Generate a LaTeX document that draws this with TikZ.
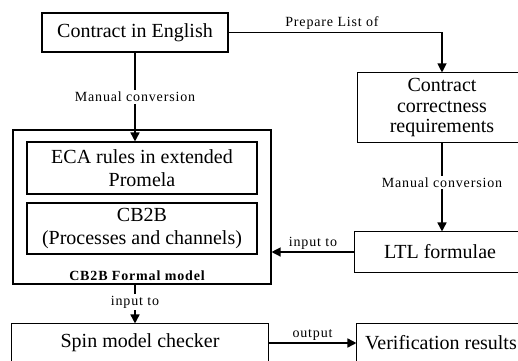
\documentclass[tikz,border=0pt]{standalone}
\usepackage{fontspec}
\setmainfont{Liberation Serif}
\usepackage{tikz}
\usetikzlibrary{arrows.meta, positioning, calc}

\begin{document}
\begin{tikzpicture}[x=1pt, y=-1pt,
  box/.style={draw, line width=1.1pt, rectangle, align=center, inner sep=0pt,
    font=\fontsize{20}{23}\selectfont},
  cutbox/.style={box, draw=none},
  lbl/.style={font=\fontsize{14}{16}\selectfont\addfontfeature{LetterSpace=6}, inner sep=2pt},
  arr/.style={line width=1.6pt, -{Triangle[length=9pt,width=9pt]}}]
\useasboundingbox (0,0) rectangle (518,360);
\clip (0,0) rectangle (518,360);
\node[box, minimum width=186pt, minimum height=39pt] (english) at (135,32.5) {Contract in English};
\node[cutbox, minimum width=168pt, minimum height=69pt, font=\fontsize{20}{20}\selectfont] (req) at (442,107.5) {Contract\\correctness\\requirements};
\node[box, minimum width=258pt, minimum height=154pt] (model) at (142,207) {};
\node[box, minimum width=230pt, minimum height=52pt] (eca) at (142,168) {ECA rules in extended\\Promela};
\node[box, minimum width=230pt, minimum height=51pt] (cbtwob) at (142,228.5) {CB2B\\(Processes and channels)};
\node[lbl, font=\fontsize{14}{16}\selectfont\bfseries\addfontfeature{LetterSpace=6}] (modelname) at (137,276) {CB2B Formal model};
\node[cutbox, minimum width=170pt, minimum height=40pt] (ltl) at (440,252) {LTL formulae};
\node[cutbox, minimum width=256pt, minimum height=38pt] (spin) at (140,343) {Spin model checker};
\node[cutbox, minimum width=168pt, minimum height=38pt] (verif) at (441,343) {Verification results};
\draw[line width=1.1pt] (req.north east) -- (req.north west) -- (req.south west) -- (req.south east);
\draw[line width=1.1pt] (ltl.north east) -- (ltl.north west) -- (ltl.south west) -- (ltl.south east);
\draw[line width=1.1pt] (spin.south west) -- (spin.north west) -- (spin.north east) -- (spin.south east);
\draw[line width=1.1pt] (verif.south west) -- (verif.north west) -- (verif.north east);

\draw[arr, line width=1.1pt] (english.east) -| (req.north);
\node[lbl] (prepare) at (332,23) {Prepare List of};
\draw[arr] (english.south) -- node[lbl, fill=white] (manualleft) {Manual conversion} (english.south |- eca.north);
\draw[arr] (req.south) -- node[lbl, fill=white, pos=0.45] (manualright) {Manual conversion} (ltl.north -| req.south);
\draw[arr, line width=1.3pt] (ltl.west) -- node[lbl, above] (inputltl) {input to} (model.east |- ltl.west);
\draw[arr] (model.south -| english.south) -- node[lbl, fill=white, pos=0.45] (inputspin) {input to} (spin.north -| english.south);
\draw[arr] (spin.east) -- node[lbl, above] (outputlbl) {output} (verif.west);
\end{tikzpicture}
\end{document}
